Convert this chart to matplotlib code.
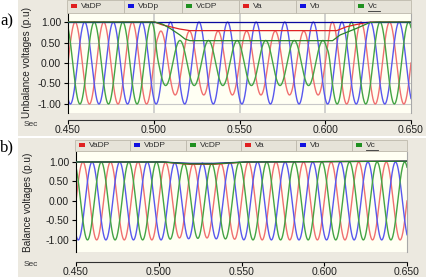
import numpy as np
import matplotlib.pyplot as plt
from matplotlib.patches import Rectangle

# ---- data ----
freq = 60.0                      # Hz
phase_deg = [0.0, -120.0, 120.0]  # Va, Vb, Vc

# a) unbalanced sag: amplitude of the instantaneous waves
unb_amp_t = [0.450, 0.5005, 0.5025, 0.6010, 0.6030, 0.650]
unb_va_amp = [1.00, 1.00, 0.78, 0.78, 1.00, 1.00]
unb_vb_amp = [1.00, 1.00, 1.00, 1.00, 1.00, 1.00]
unb_vc_amp = [1.00, 1.00, 0.55, 0.55, 1.00, 1.00]

# a) meter (DP) traces
unb_vadp_t = [0.450, 0.5005, 0.505, 0.5095, 0.515, 0.521, 0.6067, 0.6125, 0.6183, 0.6242, 0.628, 0.650]
unb_vadp = [1.00, 1.00, 0.93, 0.886, 0.83, 0.79, 0.79, 0.886, 0.94, 0.99, 1.00, 1.00]
unb_vbdp_t = [0.450, 0.650]
unb_vbdp = [1.00, 1.00]
unb_vcdp_t = [0.450, 0.5005, 0.505, 0.5095, 0.5153, 0.5182, 0.5211, 0.6043, 0.6086, 0.6183, 0.6261, 0.630, 0.650]
unb_vcdp = [1.00, 1.00, 0.95, 0.846, 0.683, 0.585, 0.545, 0.545, 0.683, 0.846, 0.99, 1.00, 1.00]

# b) balanced case: small dip only
bal_amp_t = [0.450, 0.502, 0.512, 0.533, 0.553, 0.650]
bal_va_amp = [1.00, 1.00, 0.95, 0.95, 1.00, 1.00]
bal_vb_amp = [1.00, 1.00, 0.97, 0.97, 1.00, 1.00]
bal_vc_amp = [1.00, 1.00, 0.96, 0.96, 1.00, 1.00]

bal_dp_t = [0.450, 0.5026, 0.511, 0.519, 0.533, 0.5527, 0.600, 0.650]
bal_vadp = [1.00, 1.00, 0.965, 0.94, 0.94, 1.00, 1.01, 1.02]
bal_vbdp = [1.00, 1.00, 0.98, 0.965, 0.965, 1.00, 1.01, 1.02]
bal_vcdp = [1.00, 1.00, 0.97, 0.95, 0.95, 1.00, 1.01, 1.02]

x_ticks = [0.450, 0.500, 0.550, 0.600, 0.650]
x_ticklabels = ["0.450", "0.500", "0.550", "0.600", "0.650"]
y_ticks = [1.0, 0.5, 0.0, -0.5, -1.0]
y_ticklabels = ["1.00", "0.50", "0.00", "-0.50", "-1.00"]

names_a = ["VaDP", "VbDp", "VcDP", "Va", "Vb", "Vc"]
names_b = ["VaDP", "VbDP", "VcDP", "Va", "Vb", "Vc"]

# ---- styling ----
plt.rcParams['font.family'] = ['Liberation Sans', 'DejaVu Sans']
wave_cols = ['#F07070', '#5858EE', '#44A444']
dp_cols = ['#E02424', '#0A0AA0', '#2A822A']
key_cols = ['#E02020', '#1010E0', '#209020', '#E02020', '#1010E0', '#209020']
gray_bg = '#ECE9E0'
plot_bg = '#FFFFF3'

W, H = 427, 280
fig = plt.figure(figsize=(W / 100, H / 100), dpi=100)
fig.patch.set_facecolor('white')


def box(x0, y0, x1, y1):
    return [x0 / W, 1 - y1 / H, (x1 - x0) / W, (y1 - y0) / H]


def rect(x0, y0, x1, y1, fc, ec='none', lw=0.0, z=0):
    fig.add_artist(Rectangle((x0 / W, 1 - y1 / H), (x1 - x0) / W, (y1 - y0) / H,
                             transform=fig.transFigure, facecolor=fc,
                             edgecolor=ec, linewidth=lw, zorder=z))


def legend_bar(x0, x1, y0, y1, names):
    edges = np.linspace(x0, x1, len(names) + 1)
    for i, name in enumerate(names):
        l, r = edges[i], edges[i + 1]
        rect(l, y0, r, y1, '#E6E3D8', ec='#BDB9AC', lw=0.6, z=1)
        ym = (y0 + y1) / 2
        rect(l + 4, ym - 2.2, l + 10, ym + 1.8, key_cols[i], z=2)
        fig.text((l + 14) / W, 1 - ym / H, name, fontsize=6, color='#303030',
                 va='center', ha='left', zorder=3)
        if name == "Vc":
            fig.add_artist(plt.Line2D([(l + 14) / W, (l + 26) / W],
                                      [1 - (ym + 4.5) / H] * 2,
                                      transform=fig.transFigure, color='#303030', lw=0.6))


def panel(ax_box, ylim, bar, names, amp_t, amps, dp, ylabel, ylab_x, letter, letter_y,
          sec_y, spine_off, grid):
    ax = fig.add_axes(box(*ax_box))
    ax.set_facecolor(plot_bg)
    t = np.linspace(0.450, 0.650, 4001)
    for k in range(3):
        env = np.interp(t, amp_t, amps[k])
        ax.plot(t, env * np.sin(2 * np.pi * freq * (t - 0.450) + np.radians(phase_deg[k])),
                color=wave_cols[k], lw=1.0, zorder=2)
    for k in range(3):
        ax.plot(dp[k][0], dp[k][1], color=dp_cols[k], lw=0.9, zorder=3)
    ax.set_xlim(0.450, 0.650)
    ax.set_ylim(*ylim)
    if grid:
        for yv in y_ticks:
            ax.axhline(yv, color='#C8C8C8', lw=0.8, zorder=1)
        for xv in x_ticks[1:-1]:
            ax.axvline(xv, color='#C4C4C4', lw=1.1, zorder=1)
    ax.set_yticks(y_ticks)
    ax.set_yticklabels(y_ticklabels)
    ax.set_xticks(x_ticks)
    ax.set_xticklabels(x_ticklabels)
    ax.tick_params(axis='y', length=3, width=0.8, pad=2, labelsize=7.5, labelcolor='#202020')
    ax.tick_params(axis='x', length=3, width=0.8, pad=0.5, labelsize=7.5, labelcolor='#202020')
    ax.spines['top'].set_visible(False)
    ax.spines['right'].set_color('#A8A8A8')
    ax.spines['left'].set_color('black')
    ax.spines['bottom'].set_position(('outward', spine_off))
    ax.spines['bottom'].set_color('#303030')
    ax.set_ylabel(ylabel, fontsize=7.2, color='#202020')
    # label anchor is the right edge of the rotated text
    ax.yaxis.set_label_coords((ylab_x - ax_box[0]) / (ax_box[2] - ax_box[0]), 0.5)
    legend_bar(bar[0], bar[1], bar[2], bar[3], names)
    fig.text(31 / W, 1 - sec_y / H, "Sec", fontsize=6, color='#303030', ha='center', va='center')
    fig.text(7 / W, 1 - letter_y / H, letter, fontsize=12, family='Liberation Serif',
             ha='center', va='center')
    return ax


# gray frames behind both panels
rect(18, 0, 427, 136, gray_bg, z=-1)
rect(18, 138, 427, 277, gray_bg, z=-1)

panel((68, 13, 411, 113), (-1.22, 1.22), (67, 411, 0, 13), names_a, unb_amp_t,
      [unb_va_amp, unb_vb_amp, unb_vc_amp],
      [(unb_vadp_t, unb_vadp), (unb_vbdp_t, unb_vbdp), (unb_vcdp_t, unb_vcdp)],
      "Unbalance voltages (p.u)", 32, "a)", 21, 124.5, 5.0, True)

panel((76, 152, 407, 252), (-1.31, 1.256), (75, 407, 140, 151), names_b, bal_amp_t,
      [bal_va_amp, bal_vb_amp, bal_vc_amp],
      [(bal_dp_t, bal_vadp), (bal_dp_t, bal_vbdp), (bal_dp_t, bal_vcdp)],
      "Balance voltages (p.u)", 33, "b)", 147, 265, 7.0, False)

fig.savefig("out.png", dpi=100)
